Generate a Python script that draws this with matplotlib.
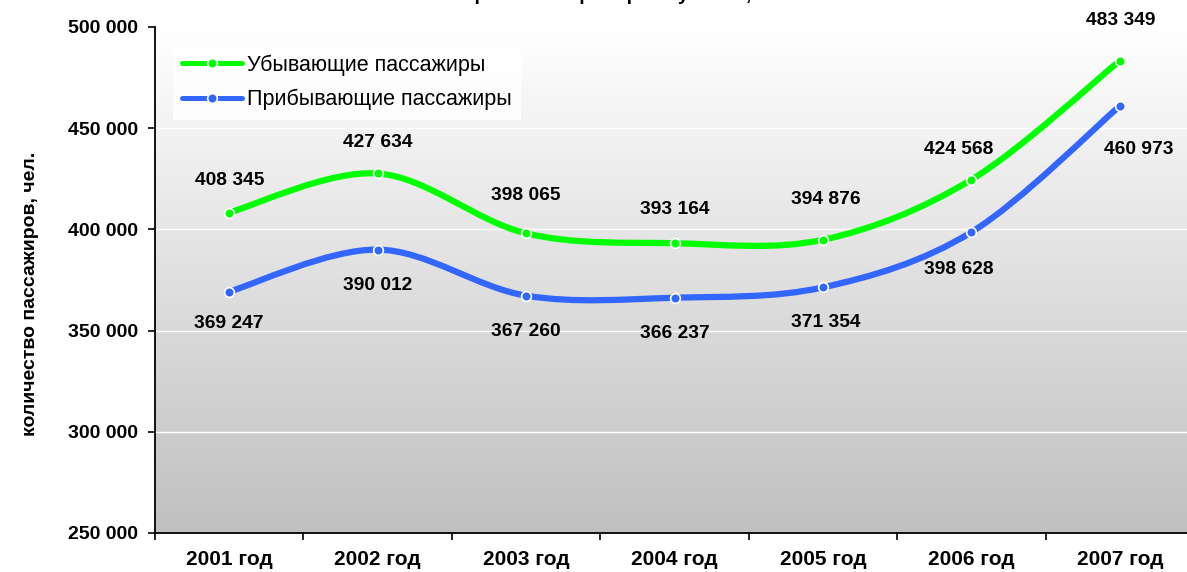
import numpy as np
import matplotlib
matplotlib.use("Agg")
import matplotlib.pyplot as plt
from matplotlib.path import Path
from matplotlib.patches import PathPatch
from matplotlib.colors import LinearSegmentedColormap

plt.rcParams['font.family'] = ['Liberation Sans', 'DejaVu Sans']

# данные
years = ['2001 год', '2002 год', '2003 год', '2004 год', '2005 год', '2006 год', '2007 год']
departing = [408345, 427634, 398065, 393164, 394876, 424568, 483349]
arriving = [369247, 390012, 367260, 366237, 371354, 398628, 460973]
yticks = [250000, 300000, 350000, 400000, 450000, 500000]

green = '#00ff00'
blue = '#3366ff'


def fmt(v):
    return '{:,}'.format(v).replace(',', ' ')


def smooth_path(xs, ys):
    # сглаженная линия как в Excel (Catmull-Rom -> Bezier)
    pts = np.column_stack([xs, ys]).astype(float)
    n = len(pts)
    verts = [pts[0]]
    codes = [Path.MOVETO]
    for i in range(n - 1):
        p0 = pts[max(i - 1, 0)]
        p1 = pts[i]
        p2 = pts[i + 1]
        p3 = pts[min(i + 2, n - 1)]
        c1 = p1 + (p2 - p0) / 6.0
        c2 = p2 - (p3 - p1) / 6.0
        verts += [c1, c2, p2]
        codes += [Path.CURVE4] * 3
    return Path(verts, codes)


fig = plt.figure(figsize=(11.87, 5.72), dpi=100)
ax = fig.add_axes([0.1306, 0.0682, 0.8753, 0.8846])

x = np.arange(len(years))
ax.set_xlim(-0.5, 6.5)
ax.set_ylim(250000, 500000)

# фон-градиент
cmap = LinearSegmentedColormap.from_list('bg', ['#c0c0c0', '#ffffff'])
grad = np.linspace(0, 1, 256).reshape(-1, 1)
ax.imshow(grad, extent=[-0.5, 6.5, 250000, 500000], origin='lower',
          aspect='auto', cmap=cmap, zorder=0)

for yv in yticks[1:-1]:
    ax.axhline(yv, color='white', lw=1, zorder=1)

for vals, col, lab in [(departing, green, 'Убывающие пассажиры'),
                       (arriving, blue, 'Прибывающие пассажиры')]:
    ax.add_patch(PathPatch(smooth_path(x, vals), fill=False, edgecolor=col,
                           lw=4.5, capstyle='round', joinstyle='round', zorder=3))
    ax.plot(x, vals, 'o', color=col, ms=7, mec='white', mew=1.2, zorder=4)
    ax.plot([], [], '-o', color=col, lw=3.6, ms=7, mec='white', mew=1.2,
            solid_capstyle='round', label=lab)

# подписи значений
g_off = [(0, 23), (0, 22), (0, 27), (0, 24), (2, 29), (-9, 22), (1, 29)]
b_off = [(0, -23), (0, -26), (0, -26), (0, -26), (2, -25), (-9, -27), (14, -31)]
for i in range(len(years)):
    ax.annotate(fmt(departing[i]), (x[i], departing[i]), xytext=g_off[i],
                textcoords='offset points', ha='center', va='center',
                fontsize=13.8, fontweight='bold', zorder=5)
    ax.annotate(fmt(arriving[i]), (x[i], arriving[i]), xytext=b_off[i],
                textcoords='offset points', ha='center', va='center',
                fontsize=13.8, fontweight='bold', zorder=5)

ax.set_yticks(yticks)
ax.set_yticklabels([fmt(v) for v in yticks], fontsize=14, fontweight='bold')
ax.set_xticks(x)
ax.set_xticklabels(years, fontsize=15, fontweight='bold')
ax.set_xticks(np.arange(-0.5, 7, 1), minor=True)
ax.tick_params(axis='x', which='major', length=0, pad=12)
ax.tick_params(axis='x', which='minor', length=5, width=1.2, direction='out')
ax.tick_params(axis='y', length=5, width=1.2, direction='out', pad=7)
for s in ['top', 'right']:
    ax.spines[s].set_visible(False)
for s in ['left', 'bottom']:
    ax.spines[s].set_linewidth(1.3)

ax.set_ylabel('количество пассажиров, чел.', fontsize=14, fontweight='bold', va='center')
ax.yaxis.set_label_coords(-0.12, 0.472)

leg = ax.legend(loc='upper left', bbox_to_anchor=(0.017, 0.965), frameon=True,
                fontsize=15.5, handlelength=2.75, handletextpad=0.25,
                labelspacing=0.62, fancybox=False, borderpad=0.45, borderaxespad=0)
leg.get_frame().set_facecolor('white')
leg.get_frame().set_edgecolor('none')
leg.get_frame().set_alpha(0.85)

fig.text(0.5, 1 - 0.5 / 572, 'Пассажиропоток аэропорта Пулково, чел.', ha='center',
         va='baseline', fontsize=14, fontweight='bold')

fig.savefig('out.png', dpi=100)
